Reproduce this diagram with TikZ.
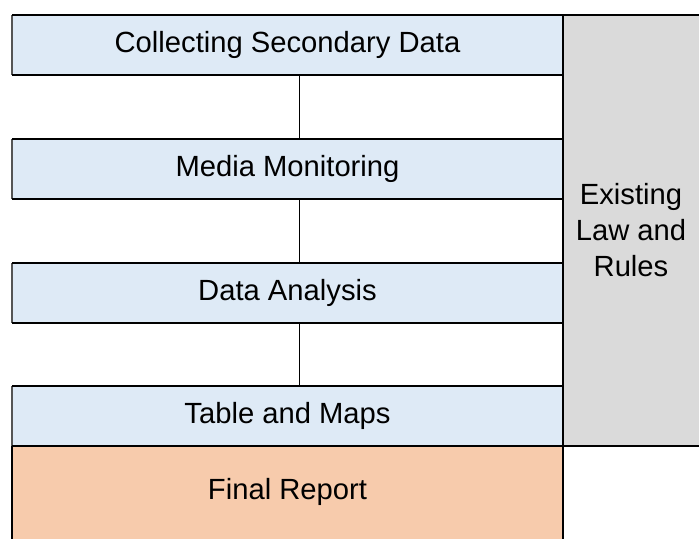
\documentclass[tikz,border=0pt]{standalone}
\usepackage{fontspec}
\setmainfont{Liberation Sans}
\definecolor{cellblue}{HTML}{DEEAF6}
\definecolor{cellgray}{HTML}{DADADA}
\definecolor{cellorange}{HTML}{F7CBAC}
\definecolor{edgegray}{HTML}{555555}
\begin{document}
\begin{tikzpicture}[x=1pt,y=-1pt,
  hline/.style={line width=2.8pt, black},
  vline/.style={line width=1.3pt, black},
  lline/.style={line width=1.6pt, edgegray},
  txt/.style={font=\fontsize{29.2}{36}\selectfont, align=center, inner sep=0pt}]
\useasboundingbox (0,0) rectangle (699,539);
% fills
\fill[cellblue] (12,15) rectangle (563,75);
\fill[cellblue] (12,139) rectangle (563,199);
\fill[cellblue] (12,263) rectangle (563,323);
\fill[cellblue] (12,386) rectangle (563,446);
\fill[cellgray] (563,15) rectangle (699,446);
\fill[cellorange] (12,446) rectangle (563,539);
% nodes
\node[txt] (c1) at (287.5,45) {Collecting Secondary Data};
\node[txt] (c2) at (287.5,169) {Media Monitoring};
\node[txt] (c3) at (287.5,293) {Data Analysis};
\node[txt] (c4) at (287.5,416) {Table and Maps};
\node[txt] (fr) at (287.5,492) {Final Report};
\node[txt] (law) at (631,230) {Existing\\Law and\\Rules};
\coordinate (b1) at (299,75);
\coordinate (t2) at (299,139);
\coordinate (b2) at (299,199);
\coordinate (t3) at (299,263);
\coordinate (b3) at (299,323);
\coordinate (t4) at (299,386);
% connectors
\draw[line width=1pt] (b1) -- (t2);
\draw[line width=1pt] (b2) -- (t3);
\draw[line width=1pt] (b3) -- (t4);
% left borders of blue cells
\draw[lline] (12,15) -- (12,75);
\draw[lline] (12,139) -- (12,199);
\draw[lline] (12,263) -- (12,323);
\draw[lline] (12,386) -- (12,446);
% borders
\draw[hline] (12,15) -- (699,15);
\draw[hline] (12,75) -- (563,75);
\draw[hline] (12,139) -- (563,139);
\draw[hline] (12,199) -- (563,199);
\draw[hline] (12,263) -- (563,263);
\draw[hline] (12,323) -- (563,323);
\draw[hline] (12,386) -- (563,386);
\draw[vline] (563,15) -- (563,446);
\draw[hline] (12,446) -- (12,539);
\draw[hline] (563,446) -- (563,539);
\draw[hline] (12,446) -- (699,446);
\end{tikzpicture}
\end{document}
